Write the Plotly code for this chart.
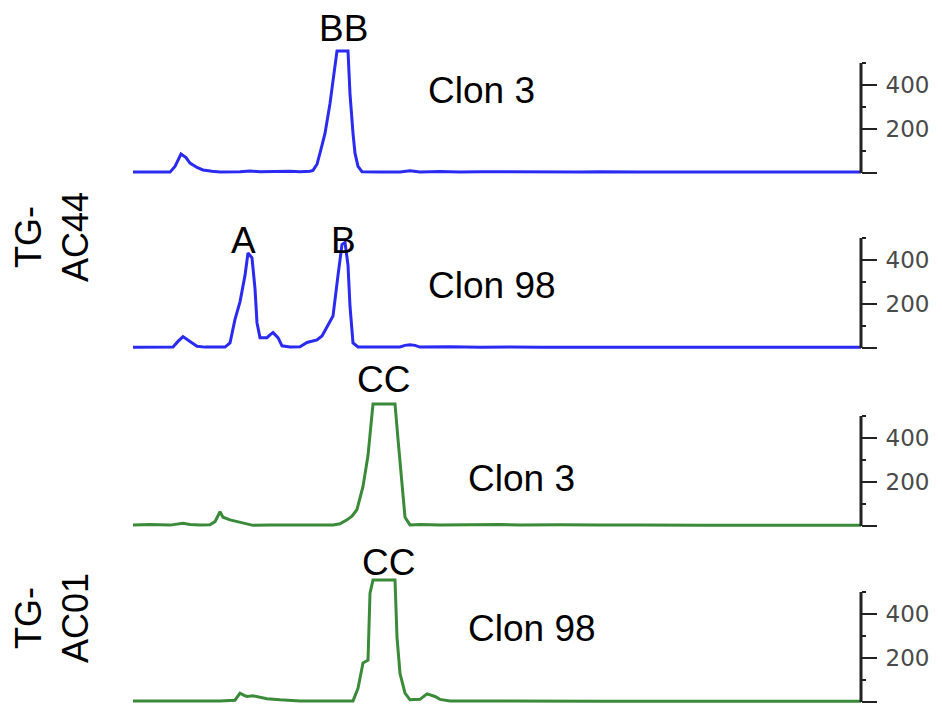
import plotly.graph_objects as go

# ---------------- data (x = fragment position units, y = signal) ----------------
p1_x = [0, 17, 37, 42, 48, 53, 57, 64, 70, 79, 87, 107, 117, 127, 137, 147, 157, 167, 172, 177, 180, 184, 187, 192,
        197, 200, 204, 215, 217, 220, 222, 225, 229, 247, 267, 277, 287, 307, 327, 347, 367, 387, 407, 427, 447,
        467, 487, 507, 567, 647, 728]
p1_y = [4, 4, 4, 30, 86, 70, 45, 25, 14, 8, 5, 6, 9, 6, 7, 5, 8, 6, 6, 8, 12, 40, 90, 180,
        316, 420, 555, 555, 360, 180, 90, 30, 6, 5, 5, 10, 5, 7, 4, 6, 5, 6, 4, 5, 4,
        6, 4, 5, 4, 4, 4]

p2_x = [0, 27, 40, 45, 50, 57, 64, 72, 92, 97, 102, 107, 112, 115, 119, 122, 124, 127, 134, 137, 140, 145, 149, 157,
        167, 174, 184, 189, 194, 200, 205, 209, 212, 215, 217, 220, 225, 247, 267, 272, 277, 282, 287, 317, 347,
        377, 407, 467, 567, 728]
p2_y = [3, 3, 5, 30, 52, 30, 8, 4, 4, 23, 130, 210, 330, 432, 410, 270, 115, 47, 47, 60, 70, 47, 10, 5,
        6, 25, 37, 55, 93, 145, 330, 470, 480, 377, 190, 23, 5, 4, 5, 12, 15, 12, 4, 6, 3,
        5, 3, 3, 3, 3]

p3_x = [0, 17, 37, 43, 50, 57, 67, 77, 82, 87, 90, 97, 104, 112, 120, 137, 157, 177, 200, 207, 214, 219, 224, 230,
        235, 240, 262, 265, 269, 272, 277, 287, 307, 327, 347, 367, 387, 427, 467, 507, 567, 728]
p3_y = [5, 7, 4, 8, 12, 7, 4, 6, 20, 65, 40, 28, 20, 10, 3, 5, 4, 6, 5, 10, 28, 45, 75, 180,
        320, 555, 555, 395, 180, 40, 5, 7, 4, 6, 5, 7, 4, 6, 4, 5, 3, 3]

p4_x = [0, 27, 57, 87, 102, 107, 111, 114, 120, 127, 134, 147, 167, 197, 220, 225, 230, 235, 237, 240, 262, 264,
        267, 272, 277, 287, 294, 302, 307, 317, 347, 387, 467, 567, 728]
p4_y = [5, 4, 6, 5, 8, 40, 30, 25, 28, 20, 15, 10, 5, 4, 5, 62, 177, 190, 495, 555, 555, 295,
        130, 40, 10, 12, 37, 25, 12, 5, 4, 3, 3, 3, 3]

tick_vals = [0, 200, 400]
tick_text = ["", "200", "400"]
minor_vals = [100, 300, 500]
axis_top = 500

BLUE = "#2a2af0"
GREEN = "#3a8a3a"

panels = [
    (p1_x, p1_y, BLUE, 173),
    (p2_x, p2_y, BLUE, 348),
    (p3_x, p3_y, GREEN, 526),
    (p4_x, p4_y, GREEN, 702),
]

W, H = 942, 706
ML, MR = 133, 81
SCALE = 0.22          # px per signal unit
YMIN, YMAX = -10, 580
XMAX = 728

fig = go.Figure()
layout = dict(
    width=W, height=H,
    margin=dict(l=ML, r=MR, t=0, b=0),
    paper_bgcolor="white", plot_bgcolor="white",
    showlegend=False,
    shapes=[], annotations=[],
)

for i, (xs, ys, col, zero_px) in enumerate(panels):
    n = "" if i == 0 else str(i + 1)
    bottom_px = zero_px - YMIN * SCALE
    top_px = bottom_px - (YMAX - YMIN) * SCALE
    dom = [1 - bottom_px / H, 1 - top_px / H]
    fig.add_trace(go.Scatter(x=xs, y=ys, mode="lines", line=dict(color=col, width=3),
                             xaxis="x" + n, yaxis="y" + n, hoverinfo="skip"))
    layout["xaxis" + n] = dict(domain=[0, 1], range=[0, XMAX], visible=False, anchor="y" + n)
    layout["yaxis" + n] = dict(
        domain=dom, range=[YMIN, YMAX], anchor="x" + n, side="right",
        showgrid=False, zeroline=False, showline=False,
        tickmode="array", tickvals=tick_vals, ticktext=tick_text,
        ticks="outside", ticklen=15, tickwidth=2, tickcolor="#222",
        ticklabelstandoff=4,
        tickfont=dict(family="DejaVu Sans", size=23, color="#4a4a4a"),
        minor=dict(tickvals=minor_vals, ticks="outside", ticklen=4, tickwidth=2, tickcolor="#222"),
    )
    layout["shapes"].append(dict(type="line", xref="x" + n + " domain", yref="y" + n,
                                 x0=1, x1=1, y0=0, y1=axis_top,
                                 line=dict(color="#222", width=3)))

FONT = dict(family="Liberation Sans, Arial", size=37, color="black")


def ann(text, xpx, ypx, anchor="center", size=None):
    f = dict(FONT)
    if size:
        f["size"] = size
    return dict(text=text, xref="paper", yref="paper",
                x=(xpx - ML) / (W - ML - MR), y=1 - ypx / H,
                xanchor=anchor, yanchor="middle", showarrow=False, font=f)


layout["annotations"] += [
    ann("BB", 343, 28),
    ann("Clon 3", 426, 90, "left"),
    ann("A", 243, 240),
    ann("B", 343, 240),
    ann("Clon 98", 426, 285, "left"),
    ann("CC", 383, 380),
    ann("Clon 3", 466, 478, "left"),
    ann("CC", 388, 562),
    ann("Clon 98", 466, 628, "left"),
]
for txt, ypx in [("TG-<br>AC44", 237), ("TG-<br>AC01", 618)]:
    a = ann(txt, 52, ypx, size=36)
    a["textangle"] = -90
    a["xanchor"] = "center"
    layout["annotations"].append(a)

fig.update_layout(**layout)
fig.write_html("out.html", config={"displayModeBar": False},
               post_script="document.body.style.margin='0';document.body.style.overflow='hidden';")
